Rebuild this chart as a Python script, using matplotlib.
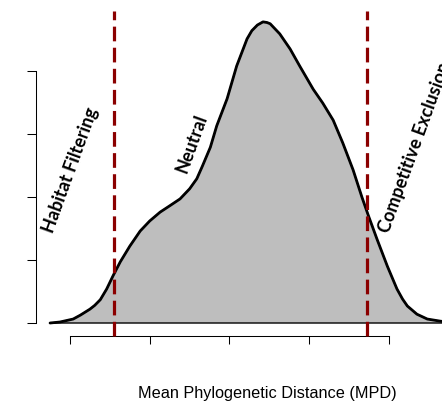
import matplotlib
matplotlib.use("Agg")
import matplotlib.pyplot as plt

# density curve (x in tick units, y in tick units)
mpd = [0.75, 0.875, 1.04, 1.13, 1.25, 1.31, 1.38, 1.46, 1.54, 1.63, 1.75, 1.88,
       2.00, 2.13, 2.25, 2.38, 2.50, 2.59, 2.66, 2.76, 2.84, 2.97, 3.09, 3.22,
       3.28, 3.35, 3.42, 3.47, 3.51, 3.63, 3.76, 3.88, 4.05, 4.17, 4.30, 4.42,
       4.55, 4.66, 4.74, 4.85, 4.98, 5.10, 5.17, 5.23, 5.35, 5.48, 5.64, 5.83]
density = [0.00, 0.016, 0.063, 0.125, 0.22, 0.28, 0.37, 0.54, 0.75, 0.97, 1.22,
           1.46, 1.62, 1.76, 1.86, 1.97, 2.13, 2.29, 2.49, 2.79, 3.13, 3.56, 4.08,
           4.51, 4.64, 4.73, 4.78, 4.77, 4.75, 4.59, 4.35, 4.08, 3.71, 3.49, 3.22,
           2.86, 2.43, 2.00, 1.71, 1.33, 0.90, 0.54, 0.38, 0.27, 0.14, 0.063, 0.03,
           0.00]
thresholds = [1.55, 4.73]
x_ticks = [1, 2, 3, 4, 5]
y_ticks = [0, 1, 2, 3, 4]
labels = ["Habitat Filtering", "Neutral", "Competitive Exclusion"]
label_pos = [(0.72, 1.46), (2.39, 2.41), (4.94, 1.46)]

fig = plt.figure(figsize=(4.42, 4.02), dpi=100)
ax = fig.add_axes([0, 0, 1, 1])
ax.set_xlim(0.1223, 5.6646)
ax.set_ylim(-1.238, 5.143)
ax.patch.set_alpha(0)

ax.fill(mpd, density, facecolor="#bebebe", edgecolor="black", lw=1.0, zorder=1)
ax.plot(mpd, density, color="black", lw=2.0, zorder=2, solid_capstyle="round")

for t in thresholds:
    ax.plot([t, t], [-0.206, 4.952], color="#8b0000", lw=2.3,
            linestyle=(0, (4.6, 2.0)), zorder=3)

for txt, (x, y) in zip(labels, label_pos):
    ax.text(x, y, txt, rotation=70, rotation_mode="anchor", ha="left",
            va="center", fontsize=13, fontweight="bold", family="Lato",
            clip_on=True)

for s in ["top", "right"]:
    ax.spines[s].set_visible(False)
ax.spines["left"].set_position(("data", 0.5737))
ax.spines["left"].set_bounds(0, 4)
ax.spines["bottom"].set_position(("data", -0.2063))
ax.spines["bottom"].set_bounds(1, 5)
for s in ["left", "bottom"]:
    ax.spines[s].set_linewidth(0.75)
ax.set_xticks(x_ticks)
ax.set_yticks(y_ticks)
ax.set_xticklabels([])
ax.set_yticklabels([])
ax.tick_params(axis="y", direction="out", length=6.5, width=0.75)
ax.tick_params(axis="x", direction="out", length=5.8, width=0.75)

fig.text(267 / 442, 4 / 402, "Mean Phylogenetic Distance (MPD)", ha="center",
         va="baseline", fontsize=11.7, family="Liberation Sans")

fig.savefig("out.png", dpi=100)
